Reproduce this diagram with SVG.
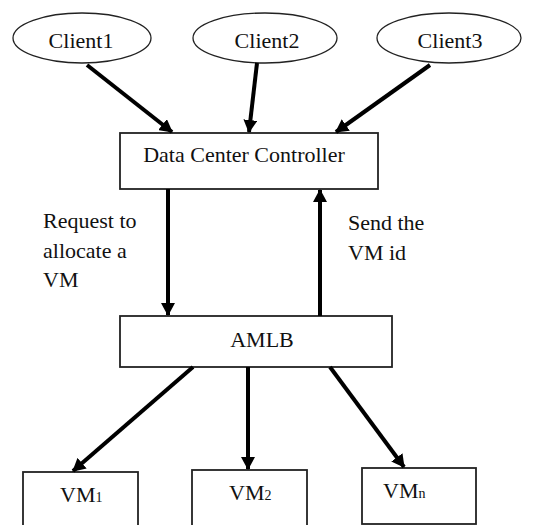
<svg xmlns="http://www.w3.org/2000/svg" width="539" height="525" viewBox="0 0 539 525">
<defs>
<style>
.ell{fill:#fff;stroke:#222;stroke-width:1.3}
.box{fill:#fff;stroke:#222;stroke-width:1.8}
.edge{stroke:#000;stroke-width:4;fill:none;marker-end:url(#ah)}
</style>
<marker id="ah" markerUnits="userSpaceOnUse" markerWidth="14" markerHeight="14" viewBox="0 0 14 14" refX="12" refY="7" orient="auto">
<path d="M0,0 L13,7 L0,14 Z" fill="#000"/>
</marker>
</defs>
<rect width="539" height="525" fill="#fff"/>
<g id="client1"><ellipse class="ell" cx="82" cy="38" rx="69" ry="25"/><text font-family="Liberation Serif" font-size="22" fill="#111" x="81" y="48" text-anchor="middle">Client1</text></g>
<g id="client2"><ellipse class="ell" cx="265" cy="38" rx="72" ry="25"/><text font-family="Liberation Serif" font-size="22" fill="#111" x="267" y="48" text-anchor="middle">Client2</text></g>
<g id="client3"><ellipse class="ell" cx="449" cy="38" rx="72" ry="25"/><text font-family="Liberation Serif" font-size="22" fill="#111" x="450" y="48" text-anchor="middle">Client3</text></g>
<g id="dcc"><rect class="box" x="120" y="133" width="258" height="56"/><text font-family="Liberation Serif" font-size="22" fill="#111" x="244" y="162" text-anchor="middle">Data Center Controller</text></g>
<g id="amlb"><rect class="box" x="120" y="316" width="272" height="51"/><text font-family="Liberation Serif" font-size="22" fill="#111" x="262" y="347" text-anchor="middle">AMLB</text></g>
<g id="vm1"><rect class="box" x="23" y="472" width="115" height="60"/><text font-family="Liberation Serif" font-size="22" fill="#111" x="60" y="502">VM<tspan font-size="14">1</tspan></text></g>
<g id="vm2"><rect class="box" x="192" y="470" width="115" height="60"/><text font-family="Liberation Serif" font-size="22" fill="#111" x="229" y="500">VM<tspan font-size="14">2</tspan></text></g>
<g id="vmn"><rect class="box" x="362" y="468" width="114" height="56"/><text font-family="Liberation Serif" font-size="22" fill="#111" x="383" y="498">VM<tspan font-size="14">n</tspan></text></g>
<g id="labels">
<text font-family="Liberation Serif" font-size="22" fill="#111" x="43" y="228">Request to</text>
<text font-family="Liberation Serif" font-size="22" fill="#111" x="43" y="258">allocate a</text>
<text font-family="Liberation Serif" font-size="22" fill="#111" x="43" y="287">VM</text>
<text font-family="Liberation Serif" font-size="22" fill="#111" x="348" y="230">Send the</text>
<text font-family="Liberation Serif" font-size="22" fill="#111" x="348" y="260">VM id</text>
</g>
<g id="connectors">
<line class="edge" x1="87" y1="65" x2="172" y2="132"/>
<line class="edge" x1="257" y1="63" x2="249" y2="132"/>
<line class="edge" x1="430" y1="65" x2="336" y2="132"/>
<line class="edge" x1="168" y1="189" x2="168" y2="315"/>
<line class="edge" x1="320" y1="316" x2="320" y2="190"/>
<line class="edge" x1="193" y1="367" x2="73" y2="471"/>
<line class="edge" x1="248" y1="367" x2="248" y2="469"/>
<line class="edge" x1="330" y1="367" x2="404" y2="467"/>
</g>
</svg>
